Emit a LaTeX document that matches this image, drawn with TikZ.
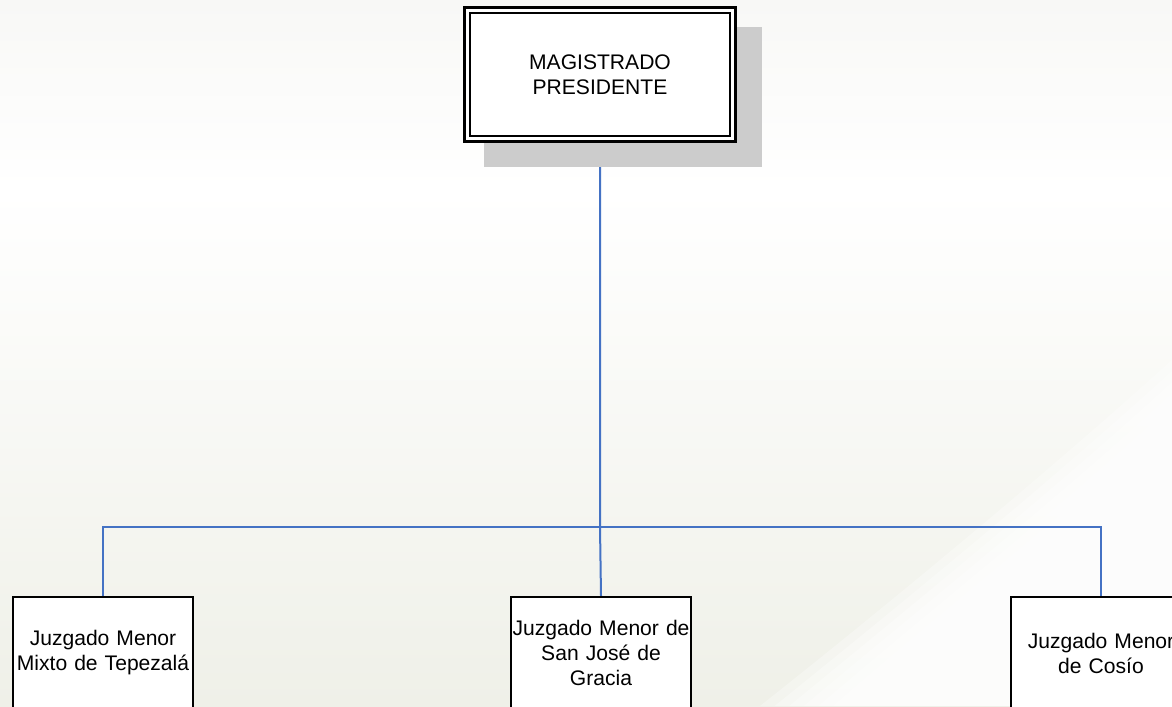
\documentclass[tikz,border=0pt]{standalone}
\usepackage{fontspec}
\setmainfont{Liberation Sans}
\usepackage{tikz}

\pgfdeclarelayer{fondo}
\pgfdeclarelayer{background}
\pgfsetlayers{fondo,background,main}

\definecolor{azul}{RGB}{68,114,196}
\definecolor{fondoabajo}{RGB}{239,240,232}
\definecolor{fondoarriba}{RGB}{248,248,246}
\definecolor{sombra}{RGB}{204,204,204}

\tikzset{
  texto/.style={font=\fontsize{12}{14.2}\selectfont, align=center},
  jefe/.style={texto, draw, double, double distance=0.066cm, line width=0.05cm,
    fill=white, minimum width=5.31cm, minimum height=2.57cm},
  juzgado/.style={texto, draw, line width=0.04cm, fill=white,
    text width=3.6cm, minimum height=2.24cm, inner sep=0pt},
  linea/.style={azul, line width=0.04cm},
}

\begin{document}
\begin{tikzpicture}[x=0.02cm,y=-0.02cm]
\useasboundingbox (0,0) rectangle (1172,706);
% fondo
\begin{pgfonlayer}{fondo}
\shade[top color=fondoarriba, bottom color=white] (0,0) rectangle (1172,190);
\shade[top color=white, bottom color=fondoabajo] (0,190) rectangle (1172,706);
\foreach \i in {0,...,5}
  \fill[white, opacity=0.3] (1172,{360+11*\i}) .. controls ({1050+8*\i},{470+5*\i}) and ({900+12*\i},{595}) .. ({760+14.6*\i},706) -- (1172,706) -- cycle;
\end{pgfonlayer}
% cajas
\node[jefe] (presidente) at (600,74.5) {MAGISTRADO\\PRESIDENTE};
\node[juzgado] (tepezala) at (103,653) {Juzgado Menor\\Mixto de Tepezalá};
\node[juzgado] (sanjose) at (601,653) {Juzgado Menor de\\San José de\\Gracia};
\node[juzgado] (cosio) at (1101,653) {Juzgado Menor\\de Cosío};
% lineas
\coordinate (bus) at (600,527);
\begin{pgfonlayer}{background}
\draw[linea] (presidente.south) -- (bus) -- (sanjose.north);
\draw[linea] (tepezala.north) |- (bus) -| (cosio.north);
% sombra
\fill[sombra] ([xshift=0.354cm,yshift=-0.354cm]presidente.north west)
  rectangle ([xshift=0.566cm,yshift=-0.546cm]presidente.south east);
\end{pgfonlayer}
\end{tikzpicture}
\end{document}
